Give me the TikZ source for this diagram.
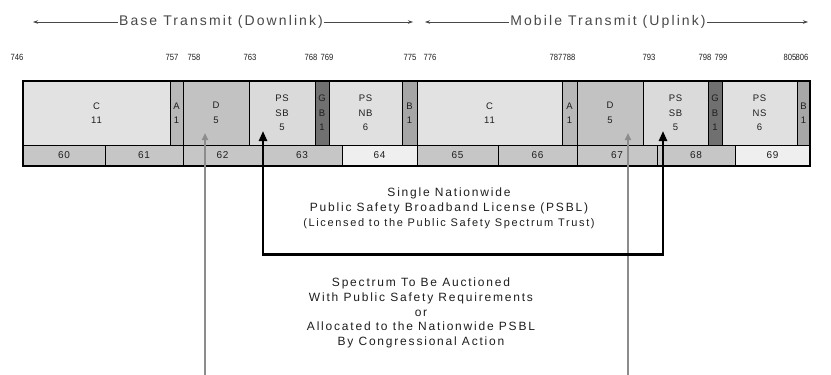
\documentclass[tikz,border=0pt]{standalone}
\usepackage{fontspec}
\setmainfont{Liberation Sans}
\newfontfamily\spacedfont[LetterSpace=15]{Liberation Sans}
\newfontfamily\slightfont[LetterSpace=8]{Liberation Sans}
\newfontfamily\narrowfont[FakeStretch=0.85]{Liberation Sans}
\usetikzlibrary{arrows.meta}
\definecolor{cC}{HTML}{E2E2E2}
\definecolor{cA}{HTML}{B8B8B8}
\definecolor{cD}{HTML}{C2C2C2}
\definecolor{cSB}{HTML}{DADADA}
\definecolor{cGB}{HTML}{707070}
\definecolor{cNB}{HTML}{E0E0E0}
\definecolor{cB}{HTML}{A6A6A6}
\definecolor{cLo}{HTML}{C6C6C6}
\definecolor{cLl}{HTML}{EFEFEF}
\definecolor{cTxt}{HTML}{1E1E1E}
\definecolor{cHead}{HTML}{484848}
\definecolor{cGrayArrow}{HTML}{8C8C8C}
\begin{document}
\begin{tikzpicture}[x=1pt,y=-1pt,
  blk/.style={draw=black, line width=0.6pt, inner sep=0pt, outer sep=0pt, anchor=north west,
    align=center, minimum height=64pt, font=\slightfont\fontsize{9.5}{14.5}\selectfont, text=cTxt},
  chn/.style={draw=black, line width=0.6pt, inner sep=0pt, outer sep=0pt, anchor=north west,
    align=center, minimum height=21pt, font=\slightfont\fontsize{10}{11}\selectfont, text=cTxt},
  freq/.style={inner sep=0pt, font=\narrowfont\fontsize{9}{10}\selectfont, text=cTxt},
  head/.style={inner sep=1pt, font=\spacedfont\fontsize{14}{16}\selectfont, text=cHead},
  harrow/.style={draw=cHead, line width=0.6pt, -{Stealth[length=5pt,width=3.5pt]}},
  midtxt/.style={inner sep=0pt, align=center, text=cTxt},
  grayarrow/.style={draw=cGrayArrow, line width=2pt, -{Triangle[width=6pt,length=7pt]}},
  blackarrow/.style={draw=black, line width=2.4pt,
    {Triangle[width=8pt,length=10pt]}-{Triangle[width=8pt,length=10pt]}}
]
\useasboundingbox (0,0) rectangle (831,375);

% headings
\node[head] (base) at (221,22) {Base Transmit (Downlink)};
\coordinate (basel) at (33,22);
\coordinate (baser) at (413,22);
\draw[harrow] (base.west) -- (basel);
\draw[harrow] (base.east) -- (baser);
\node[head] (mob) at (608,22) {Mobile Transmit (Uplink)};
\coordinate (mobl) at (425,22);
\coordinate (mobr) at (808,22);
\draw[harrow] (mob.west) -- (mobl);
\draw[harrow] (mob.east) -- (mobr);

% frequency labels
\node[freq] (f746) at (17,57) {746};
\node[freq] (f757) at (172,57) {757};
\node[freq] (f758) at (194,57) {758};
\node[freq] (f763) at (250,57) {763};
\node[freq] (f768) at (311,57) {768};
\node[freq] (f769) at (327,57) {769};
\node[freq] (f775) at (410,57) {775};
\node[freq] (f776) at (430,57) {776};
\node[freq] (f787) at (556,57) {787};
\node[freq] (f788) at (569,57) {788};
\node[freq] (f793) at (649,57) {793};
\node[freq] (f798) at (705,57) {798};
\node[freq] (f799) at (721,57) {799};
\node[freq] (f805) at (790,57) {805};
\node[freq] (f806) at (802,57) {806};

% top row blocks
\node[blk, fill=cC,  minimum width=147pt] (c1)  at (23,81)  {C\\11};
\node[blk, fill=cA,  minimum width=13pt]  (a1)  at (170,81) {A\\1};
\node[blk, fill=cD,  minimum width=66pt]  (d1)  at (183,81) {D\\5};
\node[blk, fill=cSB, minimum width=66pt]  (sb1) at (249,81) {PS\\SB\\5};
\node[blk, fill=cGB, minimum width=14pt]  (gb1) at (315,81) {G\\B\\1};
\node[blk, fill=cNB, minimum width=73pt]  (nb1) at (329,81) {PS\\NB\\6};
\node[blk, fill=cB,  minimum width=15pt]  (b1)  at (402,81) {B\\1};
\node[blk, fill=cC,  minimum width=145pt] (c2)  at (417,81) {C\\11};
\node[blk, fill=cA,  minimum width=15pt]  (a2)  at (562,81) {A\\1};
\node[blk, fill=cD,  minimum width=66pt]  (d2)  at (577,81) {D\\5};
\node[blk, fill=cSB, minimum width=65pt]  (sb2) at (643,81) {PS\\SB\\5};
\node[blk, fill=cGB, minimum width=14pt]  (gb2) at (708,81) {G\\B\\1};
\node[blk, fill=cNB, minimum width=75pt]  (nb2) at (722,81) {PS\\NS\\6};
\node[blk, fill=cB,  minimum width=13pt]  (b2)  at (797,81) {B\\1};

% channel row
\node[chn, fill=cLo, minimum width=82pt] (ch60) at (23,145)  {60};
\node[chn, fill=cLo, minimum width=78pt] (ch61) at (105,145) {61};
\node[chn, fill=cLo, minimum width=79pt] (ch62) at (183,145) {62};
\node[chn, fill=cLo, minimum width=80pt] (ch63) at (262,145) {63};
\node[chn, fill=cLl, minimum width=75pt] (ch64) at (342,145) {64};
\node[chn, fill=cLo, minimum width=81pt] (ch65) at (417,145) {65};
\node[chn, fill=cLo, minimum width=79pt] (ch66) at (498,145) {66};
\node[chn, fill=cLo, minimum width=80pt] (ch67) at (577,145) {67};
\node[chn, fill=cLo, minimum width=78pt] (ch68) at (657,145) {68};
\node[chn, fill=cLl, minimum width=75pt] (ch69) at (735,145) {69};

\draw[line width=1.4pt] (c1.north west) rectangle (ch69.south east);

% middle texts
\node[midtxt, font=\spacedfont\fontsize{12}{14.5}\selectfont] (psbl) at (449,201)
  {Single Nationwide\\Public Safety Broadband License (PSBL)};
\node[midtxt, font=\spacedfont\fontsize{11}{13}\selectfont] (trust) at (449,224)
  {(Licensed to the Public Safety Spectrum Trust)};
\node[midtxt, font=\spacedfont\fontsize{12}{14.8}\selectfont] (auct) at (421,313)
  {Spectrum To Be Auctioned\\With Public Safety Requirements\\or\\Allocated to the Nationwide PSBL\\By Congressional Action};

% gray arrows into D blocks
\coordinate (g1s) at (205,375);
\coordinate (g1t) at (205,133);
\coordinate (g2s) at (628,375);
\coordinate (g2t) at (628,133);
\draw[grayarrow] (g1s) -- (g1t);
\draw[grayarrow] (g2s) -- (g2t);

% black bracket into PS SB blocks
\coordinate (k1t) at (263,131);
\coordinate (k2b) at (663,254.5);
\coordinate (k2t) at (663,131);
\draw[blackarrow] (k1t) |- (k2b) -- (k2t);
\end{tikzpicture}
\end{document}
